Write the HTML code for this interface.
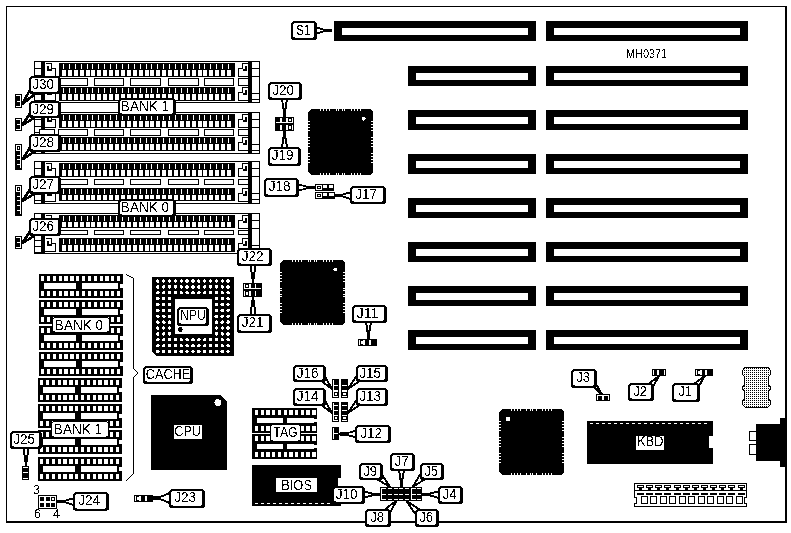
<!DOCTYPE html>
<html><head><meta charset="utf-8"><title>MH0371</title>
<style>html,body{margin:0;padding:0;background:#fff;}svg{display:block;will-change:transform;filter:url(#bw)}text{font-family:"Liberation Sans",sans-serif;fill:#000}</style>
</head><body>
<svg width="791" height="533" viewBox="0 0 791 533">
<defs><filter id="bw" x="0" y="0" width="100%" height="100%" color-interpolation-filters="sRGB"><feColorMatrix type="saturate" values="0"/><feComponentTransfer><feFuncR type="discrete" tableValues="0 1"/><feFuncG type="discrete" tableValues="0 1"/><feFuncB type="discrete" tableValues="0 1"/></feComponentTransfer></filter><pattern id="dots" width="2" height="2" patternUnits="userSpaceOnUse"><rect width="2" height="2" fill="#fff"/><rect width="1" height="1" fill="#000"/></pattern></defs>
<rect width="791" height="533" fill="#fff"/>
<g shape-rendering="crispEdges">
<rect x="6" y="6" width="1" height="517" fill="#000"/>
<rect x="6" y="6" width="781" height="1" fill="#000"/>
<rect x="785" y="6" width="2" height="517" fill="#000"/>
<rect x="6" y="521" width="781" height="2" fill="#000"/>
<rect x="334" y="21" width="202" height="20" fill="#000"/>
<rect x="342" y="28" width="186" height="7" fill="#fff"/>
<rect x="546" y="21" width="202" height="20" fill="#000"/>
<rect x="554" y="28" width="186" height="7" fill="#fff"/>
<rect x="408" y="66" width="128" height="20" fill="#000"/>
<rect x="416" y="73" width="112" height="7" fill="#fff"/>
<rect x="546" y="66" width="202" height="20" fill="#000"/>
<rect x="554" y="73" width="186" height="7" fill="#fff"/>
<rect x="408" y="110" width="128" height="20" fill="#000"/>
<rect x="416" y="117" width="112" height="7" fill="#fff"/>
<rect x="546" y="110" width="202" height="20" fill="#000"/>
<rect x="554" y="117" width="186" height="7" fill="#fff"/>
<rect x="408" y="154" width="128" height="20" fill="#000"/>
<rect x="416" y="161" width="112" height="7" fill="#fff"/>
<rect x="546" y="154" width="202" height="20" fill="#000"/>
<rect x="554" y="161" width="186" height="7" fill="#fff"/>
<rect x="408" y="198" width="128" height="20" fill="#000"/>
<rect x="416" y="205" width="112" height="7" fill="#fff"/>
<rect x="546" y="198" width="202" height="20" fill="#000"/>
<rect x="554" y="205" width="186" height="7" fill="#fff"/>
<rect x="408" y="242" width="128" height="20" fill="#000"/>
<rect x="416" y="249" width="112" height="7" fill="#fff"/>
<rect x="546" y="242" width="202" height="20" fill="#000"/>
<rect x="554" y="249" width="186" height="7" fill="#fff"/>
<rect x="408" y="286" width="128" height="20" fill="#000"/>
<rect x="416" y="293" width="112" height="7" fill="#fff"/>
<rect x="546" y="286" width="202" height="20" fill="#000"/>
<rect x="554" y="293" width="186" height="7" fill="#fff"/>
<rect x="408" y="330" width="128" height="20" fill="#000"/>
<rect x="416" y="337" width="112" height="7" fill="#fff"/>
<rect x="546" y="330" width="202" height="20" fill="#000"/>
<rect x="554" y="337" width="186" height="7" fill="#fff"/>
<rect x="34" y="61" width="226" height="42" fill="#000"/>
<rect x="35" y="62" width="224" height="40" fill="#fff"/>
<rect x="41" y="61" width="4" height="42" fill="#000"/>
<rect x="248" y="61" width="4" height="42" fill="#000"/>
<rect x="34" y="68" width="8" height="1" fill="#000"/>
<rect x="34" y="75" width="8" height="1" fill="#000"/>
<rect x="34" y="81" width="8" height="1" fill="#000"/>
<rect x="34" y="88" width="8" height="1" fill="#000"/>
<rect x="34" y="94" width="8" height="1" fill="#000"/>
<rect x="34" y="100" width="8" height="1" fill="#000"/>
<rect x="251" y="68" width="9" height="1" fill="#000"/>
<rect x="251" y="76" width="9" height="1" fill="#000"/>
<rect x="251" y="93" width="9" height="1" fill="#000"/>
<rect x="251" y="99" width="9" height="1" fill="#000"/>
<rect x="59" y="63" width="176" height="14" fill="#000"/>
<polyline points="45.5,63.5 51.5,63.5 51.5,68.5 55.5,68.5 55.5,76.5 45,76.5" fill="none" stroke="#000" stroke-width="1" />
<polyline points="47.5,65.5 47.5,69.5 51.5,69.5" fill="none" stroke="#000" stroke-width="2" />
<polyline points="248,63.5 242.5,63.5 242.5,68.5 238.5,68.5 238.5,76.5 248,76.5" fill="none" stroke="#000" stroke-width="1" />
<polyline points="246,65.5 246,69.5 242.5,69.5" fill="none" stroke="#000" stroke-width="2" />
<rect x="59" y="87" width="176" height="14" fill="#000"/>
<polyline points="45.5,87.5 51.5,87.5 51.5,92.5 55.5,92.5 55.5,100.5 45,100.5" fill="none" stroke="#000" stroke-width="1" />
<polyline points="47.5,89.5 47.5,93.5 51.5,93.5" fill="none" stroke="#000" stroke-width="2" />
<polyline points="248,87.5 242.5,87.5 242.5,92.5 238.5,92.5 238.5,100.5 248,100.5" fill="none" stroke="#000" stroke-width="1" />
<polyline points="246,89.5 246,93.5 242.5,93.5" fill="none" stroke="#000" stroke-width="2" />
<path d="M62 70h4v6h-4zM63 64h1v5h-1zM68 70h4v6h-4zM69 64h1v5h-1zM74 70h4v6h-4zM75 64h1v5h-1zM80 70h4v6h-4zM81 64h1v5h-1zM86 70h4v6h-4zM87 64h1v5h-1zM91 70h4v6h-4zM92 64h1v5h-1zM97 70h4v6h-4zM98 64h1v5h-1zM103 70h4v6h-4zM104 64h1v5h-1zM109 70h4v6h-4zM110 64h1v5h-1zM115 70h4v6h-4zM116 64h1v5h-1zM121 70h4v6h-4zM122 64h1v5h-1zM127 70h4v6h-4zM128 64h1v5h-1zM133 70h4v6h-4zM134 64h1v5h-1zM139 70h4v6h-4zM140 64h1v5h-1zM145 70h4v6h-4zM146 64h1v5h-1zM150 70h4v6h-4zM151 64h1v5h-1zM156 70h4v6h-4zM157 64h1v5h-1zM162 70h4v6h-4zM163 64h1v5h-1zM168 70h4v6h-4zM169 64h1v5h-1zM174 70h4v6h-4zM175 64h1v5h-1zM180 70h4v6h-4zM181 64h1v5h-1zM186 70h4v6h-4zM187 64h1v5h-1zM192 70h4v6h-4zM193 64h1v5h-1zM198 70h4v6h-4zM199 64h1v5h-1zM203 70h4v6h-4zM204 64h1v5h-1zM209 70h4v6h-4zM210 64h1v5h-1zM215 70h4v6h-4zM216 64h1v5h-1zM221 70h4v6h-4zM222 64h1v5h-1zM227 70h4v6h-4zM228 64h1v5h-1zM62 94h4v6h-4zM63 88h1v5h-1zM68 94h4v6h-4zM69 88h1v5h-1zM74 94h4v6h-4zM75 88h1v5h-1zM80 94h4v6h-4zM81 88h1v5h-1zM86 94h4v6h-4zM87 88h1v5h-1zM91 94h4v6h-4zM92 88h1v5h-1zM97 94h4v6h-4zM98 88h1v5h-1zM103 94h4v6h-4zM104 88h1v5h-1zM109 94h4v6h-4zM110 88h1v5h-1zM115 94h4v6h-4zM116 88h1v5h-1zM121 94h4v6h-4zM122 88h1v5h-1zM127 94h4v6h-4zM128 88h1v5h-1zM133 94h4v6h-4zM134 88h1v5h-1zM139 94h4v6h-4zM140 88h1v5h-1zM145 94h4v6h-4zM146 88h1v5h-1zM150 94h4v6h-4zM151 88h1v5h-1zM156 94h4v6h-4zM157 88h1v5h-1zM162 94h4v6h-4zM163 88h1v5h-1zM168 94h4v6h-4zM169 88h1v5h-1zM174 94h4v6h-4zM175 88h1v5h-1zM180 94h4v6h-4zM181 88h1v5h-1zM186 94h4v6h-4zM187 88h1v5h-1zM192 94h4v6h-4zM193 88h1v5h-1zM198 94h4v6h-4zM199 88h1v5h-1zM203 94h4v6h-4zM204 88h1v5h-1zM209 94h4v6h-4zM210 88h1v5h-1zM215 94h4v6h-4zM216 88h1v5h-1zM221 94h4v6h-4zM222 88h1v5h-1zM227 94h4v6h-4zM228 88h1v5h-1z" fill="#fff"/>
<rect x="58" y="78" width="30" height="8" fill="#000"/>
<rect x="59" y="79" width="28" height="6" fill="#fff"/>
<rect x="94" y="78" width="30" height="8" fill="#000"/>
<rect x="95" y="79" width="28" height="6" fill="#fff"/>
<rect x="130" y="78" width="31" height="8" fill="#000"/>
<rect x="131" y="79" width="29" height="6" fill="#fff"/>
<rect x="168" y="78" width="31" height="8" fill="#000"/>
<rect x="169" y="79" width="29" height="6" fill="#fff"/>
<rect x="204" y="78" width="30" height="8" fill="#000"/>
<rect x="205" y="79" width="28" height="6" fill="#fff"/>
<rect x="238" y="78" width="11" height="8" fill="#000"/>
<rect x="239" y="79" width="9" height="6" fill="#fff"/>
<rect x="39" y="78" width="16" height="8" fill="#000"/>
<rect x="40" y="79" width="14" height="6" fill="#fff"/>
<rect x="34" y="112" width="226" height="42" fill="#000"/>
<rect x="35" y="113" width="224" height="40" fill="#fff"/>
<rect x="41" y="112" width="4" height="42" fill="#000"/>
<rect x="248" y="112" width="4" height="42" fill="#000"/>
<rect x="34" y="119" width="8" height="1" fill="#000"/>
<rect x="34" y="126" width="8" height="1" fill="#000"/>
<rect x="34" y="132" width="8" height="1" fill="#000"/>
<rect x="34" y="139" width="8" height="1" fill="#000"/>
<rect x="34" y="145" width="8" height="1" fill="#000"/>
<rect x="34" y="151" width="8" height="1" fill="#000"/>
<rect x="251" y="119" width="9" height="1" fill="#000"/>
<rect x="251" y="127" width="9" height="1" fill="#000"/>
<rect x="251" y="144" width="9" height="1" fill="#000"/>
<rect x="251" y="150" width="9" height="1" fill="#000"/>
<rect x="59" y="114" width="176" height="14" fill="#000"/>
<polyline points="45.5,114.5 51.5,114.5 51.5,119.5 55.5,119.5 55.5,127.5 45,127.5" fill="none" stroke="#000" stroke-width="1" />
<polyline points="47.5,116.5 47.5,120.5 51.5,120.5" fill="none" stroke="#000" stroke-width="2" />
<polyline points="248,114.5 242.5,114.5 242.5,119.5 238.5,119.5 238.5,127.5 248,127.5" fill="none" stroke="#000" stroke-width="1" />
<polyline points="246,116.5 246,120.5 242.5,120.5" fill="none" stroke="#000" stroke-width="2" />
<rect x="59" y="137" width="176" height="14" fill="#000"/>
<polyline points="45.5,137.5 51.5,137.5 51.5,142.5 55.5,142.5 55.5,150.5 45,150.5" fill="none" stroke="#000" stroke-width="1" />
<polyline points="47.5,139.5 47.5,143.5 51.5,143.5" fill="none" stroke="#000" stroke-width="2" />
<polyline points="248,137.5 242.5,137.5 242.5,142.5 238.5,142.5 238.5,150.5 248,150.5" fill="none" stroke="#000" stroke-width="1" />
<polyline points="246,139.5 246,143.5 242.5,143.5" fill="none" stroke="#000" stroke-width="2" />
<path d="M62 121h4v6h-4zM63 115h1v5h-1zM68 121h4v6h-4zM69 115h1v5h-1zM74 121h4v6h-4zM75 115h1v5h-1zM80 121h4v6h-4zM81 115h1v5h-1zM86 121h4v6h-4zM87 115h1v5h-1zM91 121h4v6h-4zM92 115h1v5h-1zM97 121h4v6h-4zM98 115h1v5h-1zM103 121h4v6h-4zM104 115h1v5h-1zM109 121h4v6h-4zM110 115h1v5h-1zM115 121h4v6h-4zM116 115h1v5h-1zM121 121h4v6h-4zM122 115h1v5h-1zM127 121h4v6h-4zM128 115h1v5h-1zM133 121h4v6h-4zM134 115h1v5h-1zM139 121h4v6h-4zM140 115h1v5h-1zM145 121h4v6h-4zM146 115h1v5h-1zM150 121h4v6h-4zM151 115h1v5h-1zM156 121h4v6h-4zM157 115h1v5h-1zM162 121h4v6h-4zM163 115h1v5h-1zM168 121h4v6h-4zM169 115h1v5h-1zM174 121h4v6h-4zM175 115h1v5h-1zM180 121h4v6h-4zM181 115h1v5h-1zM186 121h4v6h-4zM187 115h1v5h-1zM192 121h4v6h-4zM193 115h1v5h-1zM198 121h4v6h-4zM199 115h1v5h-1zM203 121h4v6h-4zM204 115h1v5h-1zM209 121h4v6h-4zM210 115h1v5h-1zM215 121h4v6h-4zM216 115h1v5h-1zM221 121h4v6h-4zM222 115h1v5h-1zM227 121h4v6h-4zM228 115h1v5h-1zM62 144h4v6h-4zM63 138h1v5h-1zM68 144h4v6h-4zM69 138h1v5h-1zM74 144h4v6h-4zM75 138h1v5h-1zM80 144h4v6h-4zM81 138h1v5h-1zM86 144h4v6h-4zM87 138h1v5h-1zM91 144h4v6h-4zM92 138h1v5h-1zM97 144h4v6h-4zM98 138h1v5h-1zM103 144h4v6h-4zM104 138h1v5h-1zM109 144h4v6h-4zM110 138h1v5h-1zM115 144h4v6h-4zM116 138h1v5h-1zM121 144h4v6h-4zM122 138h1v5h-1zM127 144h4v6h-4zM128 138h1v5h-1zM133 144h4v6h-4zM134 138h1v5h-1zM139 144h4v6h-4zM140 138h1v5h-1zM145 144h4v6h-4zM146 138h1v5h-1zM150 144h4v6h-4zM151 138h1v5h-1zM156 144h4v6h-4zM157 138h1v5h-1zM162 144h4v6h-4zM163 138h1v5h-1zM168 144h4v6h-4zM169 138h1v5h-1zM174 144h4v6h-4zM175 138h1v5h-1zM180 144h4v6h-4zM181 138h1v5h-1zM186 144h4v6h-4zM187 138h1v5h-1zM192 144h4v6h-4zM193 138h1v5h-1zM198 144h4v6h-4zM199 138h1v5h-1zM203 144h4v6h-4zM204 138h1v5h-1zM209 144h4v6h-4zM210 138h1v5h-1zM215 144h4v6h-4zM216 138h1v5h-1zM221 144h4v6h-4zM222 138h1v5h-1zM227 144h4v6h-4zM228 138h1v5h-1z" fill="#fff"/>
<rect x="58" y="129" width="30" height="7" fill="#000"/>
<rect x="59" y="130" width="28" height="5" fill="#fff"/>
<rect x="94" y="129" width="30" height="7" fill="#000"/>
<rect x="95" y="130" width="28" height="5" fill="#fff"/>
<rect x="130" y="129" width="31" height="7" fill="#000"/>
<rect x="131" y="130" width="29" height="5" fill="#fff"/>
<rect x="168" y="129" width="31" height="7" fill="#000"/>
<rect x="169" y="130" width="29" height="5" fill="#fff"/>
<rect x="204" y="129" width="30" height="7" fill="#000"/>
<rect x="205" y="130" width="28" height="5" fill="#fff"/>
<rect x="238" y="129" width="11" height="7" fill="#000"/>
<rect x="239" y="130" width="9" height="5" fill="#fff"/>
<rect x="39" y="129" width="16" height="7" fill="#000"/>
<rect x="40" y="130" width="14" height="5" fill="#fff"/>
<rect x="34" y="161" width="226" height="43" fill="#000"/>
<rect x="35" y="162" width="224" height="41" fill="#fff"/>
<rect x="41" y="161" width="4" height="43" fill="#000"/>
<rect x="248" y="161" width="4" height="43" fill="#000"/>
<rect x="34" y="168" width="8" height="1" fill="#000"/>
<rect x="34" y="175" width="8" height="1" fill="#000"/>
<rect x="34" y="181" width="8" height="1" fill="#000"/>
<rect x="34" y="188" width="8" height="1" fill="#000"/>
<rect x="34" y="194" width="8" height="1" fill="#000"/>
<rect x="34" y="200" width="8" height="1" fill="#000"/>
<rect x="251" y="168" width="9" height="1" fill="#000"/>
<rect x="251" y="176" width="9" height="1" fill="#000"/>
<rect x="251" y="193" width="9" height="1" fill="#000"/>
<rect x="251" y="199" width="9" height="1" fill="#000"/>
<rect x="59" y="163" width="176" height="14" fill="#000"/>
<polyline points="45.5,163.5 51.5,163.5 51.5,168.5 55.5,168.5 55.5,176.5 45,176.5" fill="none" stroke="#000" stroke-width="1" />
<polyline points="47.5,165.5 47.5,169.5 51.5,169.5" fill="none" stroke="#000" stroke-width="2" />
<polyline points="248,163.5 242.5,163.5 242.5,168.5 238.5,168.5 238.5,176.5 248,176.5" fill="none" stroke="#000" stroke-width="1" />
<polyline points="246,165.5 246,169.5 242.5,169.5" fill="none" stroke="#000" stroke-width="2" />
<rect x="59" y="188" width="176" height="13" fill="#000"/>
<polyline points="45.5,188.5 51.5,188.5 51.5,193.5 55.5,193.5 55.5,201.5 45,201.5" fill="none" stroke="#000" stroke-width="1" />
<polyline points="47.5,190.5 47.5,194.5 51.5,194.5" fill="none" stroke="#000" stroke-width="2" />
<polyline points="248,188.5 242.5,188.5 242.5,193.5 238.5,193.5 238.5,201.5 248,201.5" fill="none" stroke="#000" stroke-width="1" />
<polyline points="246,190.5 246,194.5 242.5,194.5" fill="none" stroke="#000" stroke-width="2" />
<path d="M62 170h4v6h-4zM63 164h1v5h-1zM68 170h4v6h-4zM69 164h1v5h-1zM74 170h4v6h-4zM75 164h1v5h-1zM80 170h4v6h-4zM81 164h1v5h-1zM86 170h4v6h-4zM87 164h1v5h-1zM91 170h4v6h-4zM92 164h1v5h-1zM97 170h4v6h-4zM98 164h1v5h-1zM103 170h4v6h-4zM104 164h1v5h-1zM109 170h4v6h-4zM110 164h1v5h-1zM115 170h4v6h-4zM116 164h1v5h-1zM121 170h4v6h-4zM122 164h1v5h-1zM127 170h4v6h-4zM128 164h1v5h-1zM133 170h4v6h-4zM134 164h1v5h-1zM139 170h4v6h-4zM140 164h1v5h-1zM145 170h4v6h-4zM146 164h1v5h-1zM150 170h4v6h-4zM151 164h1v5h-1zM156 170h4v6h-4zM157 164h1v5h-1zM162 170h4v6h-4zM163 164h1v5h-1zM168 170h4v6h-4zM169 164h1v5h-1zM174 170h4v6h-4zM175 164h1v5h-1zM180 170h4v6h-4zM181 164h1v5h-1zM186 170h4v6h-4zM187 164h1v5h-1zM192 170h4v6h-4zM193 164h1v5h-1zM198 170h4v6h-4zM199 164h1v5h-1zM203 170h4v6h-4zM204 164h1v5h-1zM209 170h4v6h-4zM210 164h1v5h-1zM215 170h4v6h-4zM216 164h1v5h-1zM221 170h4v6h-4zM222 164h1v5h-1zM227 170h4v6h-4zM228 164h1v5h-1zM62 195h4v5h-4zM63 189h1v5h-1zM68 195h4v5h-4zM69 189h1v5h-1zM74 195h4v5h-4zM75 189h1v5h-1zM80 195h4v5h-4zM81 189h1v5h-1zM86 195h4v5h-4zM87 189h1v5h-1zM91 195h4v5h-4zM92 189h1v5h-1zM97 195h4v5h-4zM98 189h1v5h-1zM103 195h4v5h-4zM104 189h1v5h-1zM109 195h4v5h-4zM110 189h1v5h-1zM115 195h4v5h-4zM116 189h1v5h-1zM121 195h4v5h-4zM122 189h1v5h-1zM127 195h4v5h-4zM128 189h1v5h-1zM133 195h4v5h-4zM134 189h1v5h-1zM139 195h4v5h-4zM140 189h1v5h-1zM145 195h4v5h-4zM146 189h1v5h-1zM150 195h4v5h-4zM151 189h1v5h-1zM156 195h4v5h-4zM157 189h1v5h-1zM162 195h4v5h-4zM163 189h1v5h-1zM168 195h4v5h-4zM169 189h1v5h-1zM174 195h4v5h-4zM175 189h1v5h-1zM180 195h4v5h-4zM181 189h1v5h-1zM186 195h4v5h-4zM187 189h1v5h-1zM192 195h4v5h-4zM193 189h1v5h-1zM198 195h4v5h-4zM199 189h1v5h-1zM203 195h4v5h-4zM204 189h1v5h-1zM209 195h4v5h-4zM210 189h1v5h-1zM215 195h4v5h-4zM216 189h1v5h-1zM221 195h4v5h-4zM222 189h1v5h-1zM227 195h4v5h-4zM228 189h1v5h-1z" fill="#fff"/>
<rect x="58" y="179" width="30" height="6" fill="#000"/>
<rect x="59" y="180" width="28" height="4" fill="#fff"/>
<rect x="94" y="179" width="30" height="6" fill="#000"/>
<rect x="95" y="180" width="28" height="4" fill="#fff"/>
<rect x="130" y="179" width="31" height="6" fill="#000"/>
<rect x="131" y="180" width="29" height="4" fill="#fff"/>
<rect x="168" y="179" width="31" height="6" fill="#000"/>
<rect x="169" y="180" width="29" height="4" fill="#fff"/>
<rect x="204" y="179" width="30" height="6" fill="#000"/>
<rect x="205" y="180" width="28" height="4" fill="#fff"/>
<rect x="238" y="179" width="11" height="6" fill="#000"/>
<rect x="239" y="180" width="9" height="4" fill="#fff"/>
<rect x="39" y="179" width="16" height="6" fill="#000"/>
<rect x="40" y="180" width="14" height="4" fill="#fff"/>
<rect x="34" y="213" width="226" height="41" fill="#000"/>
<rect x="35" y="214" width="224" height="39" fill="#fff"/>
<rect x="41" y="213" width="4" height="41" fill="#000"/>
<rect x="248" y="213" width="4" height="41" fill="#000"/>
<rect x="34" y="220" width="8" height="1" fill="#000"/>
<rect x="34" y="227" width="8" height="1" fill="#000"/>
<rect x="34" y="233" width="8" height="1" fill="#000"/>
<rect x="34" y="240" width="8" height="1" fill="#000"/>
<rect x="34" y="246" width="8" height="1" fill="#000"/>
<rect x="34" y="252" width="8" height="1" fill="#000"/>
<rect x="251" y="220" width="9" height="1" fill="#000"/>
<rect x="251" y="228" width="9" height="1" fill="#000"/>
<rect x="251" y="245" width="9" height="1" fill="#000"/>
<rect x="251" y="251" width="9" height="1" fill="#000"/>
<rect x="59" y="215" width="176" height="13" fill="#000"/>
<polyline points="45.5,215.5 51.5,215.5 51.5,220.5 55.5,220.5 55.5,228.5 45,228.5" fill="none" stroke="#000" stroke-width="1" />
<polyline points="47.5,217.5 47.5,221.5 51.5,221.5" fill="none" stroke="#000" stroke-width="2" />
<polyline points="248,215.5 242.5,215.5 242.5,220.5 238.5,220.5 238.5,228.5 248,228.5" fill="none" stroke="#000" stroke-width="1" />
<polyline points="246,217.5 246,221.5 242.5,221.5" fill="none" stroke="#000" stroke-width="2" />
<rect x="59" y="238" width="176" height="14" fill="#000"/>
<polyline points="45.5,238.5 51.5,238.5 51.5,243.5 55.5,243.5 55.5,251.5 45,251.5" fill="none" stroke="#000" stroke-width="1" />
<polyline points="47.5,240.5 47.5,244.5 51.5,244.5" fill="none" stroke="#000" stroke-width="2" />
<polyline points="248,238.5 242.5,238.5 242.5,243.5 238.5,243.5 238.5,251.5 248,251.5" fill="none" stroke="#000" stroke-width="1" />
<polyline points="246,240.5 246,244.5 242.5,244.5" fill="none" stroke="#000" stroke-width="2" />
<path d="M62 222h4v5h-4zM63 216h1v5h-1zM68 222h4v5h-4zM69 216h1v5h-1zM74 222h4v5h-4zM75 216h1v5h-1zM80 222h4v5h-4zM81 216h1v5h-1zM86 222h4v5h-4zM87 216h1v5h-1zM91 222h4v5h-4zM92 216h1v5h-1zM97 222h4v5h-4zM98 216h1v5h-1zM103 222h4v5h-4zM104 216h1v5h-1zM109 222h4v5h-4zM110 216h1v5h-1zM115 222h4v5h-4zM116 216h1v5h-1zM121 222h4v5h-4zM122 216h1v5h-1zM127 222h4v5h-4zM128 216h1v5h-1zM133 222h4v5h-4zM134 216h1v5h-1zM139 222h4v5h-4zM140 216h1v5h-1zM145 222h4v5h-4zM146 216h1v5h-1zM150 222h4v5h-4zM151 216h1v5h-1zM156 222h4v5h-4zM157 216h1v5h-1zM162 222h4v5h-4zM163 216h1v5h-1zM168 222h4v5h-4zM169 216h1v5h-1zM174 222h4v5h-4zM175 216h1v5h-1zM180 222h4v5h-4zM181 216h1v5h-1zM186 222h4v5h-4zM187 216h1v5h-1zM192 222h4v5h-4zM193 216h1v5h-1zM198 222h4v5h-4zM199 216h1v5h-1zM203 222h4v5h-4zM204 216h1v5h-1zM209 222h4v5h-4zM210 216h1v5h-1zM215 222h4v5h-4zM216 216h1v5h-1zM221 222h4v5h-4zM222 216h1v5h-1zM227 222h4v5h-4zM228 216h1v5h-1zM62 245h4v6h-4zM63 239h1v5h-1zM68 245h4v6h-4zM69 239h1v5h-1zM74 245h4v6h-4zM75 239h1v5h-1zM80 245h4v6h-4zM81 239h1v5h-1zM86 245h4v6h-4zM87 239h1v5h-1zM91 245h4v6h-4zM92 239h1v5h-1zM97 245h4v6h-4zM98 239h1v5h-1zM103 245h4v6h-4zM104 239h1v5h-1zM109 245h4v6h-4zM110 239h1v5h-1zM115 245h4v6h-4zM116 239h1v5h-1zM121 245h4v6h-4zM122 239h1v5h-1zM127 245h4v6h-4zM128 239h1v5h-1zM133 245h4v6h-4zM134 239h1v5h-1zM139 245h4v6h-4zM140 239h1v5h-1zM145 245h4v6h-4zM146 239h1v5h-1zM150 245h4v6h-4zM151 239h1v5h-1zM156 245h4v6h-4zM157 239h1v5h-1zM162 245h4v6h-4zM163 239h1v5h-1zM168 245h4v6h-4zM169 239h1v5h-1zM174 245h4v6h-4zM175 239h1v5h-1zM180 245h4v6h-4zM181 239h1v5h-1zM186 245h4v6h-4zM187 239h1v5h-1zM192 245h4v6h-4zM193 239h1v5h-1zM198 245h4v6h-4zM199 239h1v5h-1zM203 245h4v6h-4zM204 239h1v5h-1zM209 245h4v6h-4zM210 239h1v5h-1zM215 245h4v6h-4zM216 239h1v5h-1zM221 245h4v6h-4zM222 239h1v5h-1zM227 245h4v6h-4zM228 239h1v5h-1z" fill="#fff"/>
<rect x="58" y="230" width="30" height="5" fill="#000"/>
<rect x="59" y="231" width="28" height="3" fill="#fff"/>
<rect x="94" y="230" width="30" height="5" fill="#000"/>
<rect x="95" y="231" width="28" height="3" fill="#fff"/>
<rect x="130" y="230" width="31" height="5" fill="#000"/>
<rect x="131" y="231" width="29" height="3" fill="#fff"/>
<rect x="168" y="230" width="31" height="5" fill="#000"/>
<rect x="169" y="231" width="29" height="3" fill="#fff"/>
<rect x="204" y="230" width="30" height="5" fill="#000"/>
<rect x="205" y="231" width="28" height="3" fill="#fff"/>
<rect x="238" y="230" width="11" height="5" fill="#000"/>
<rect x="239" y="231" width="9" height="3" fill="#fff"/>
<rect x="39" y="230" width="16" height="5" fill="#000"/>
<rect x="40" y="231" width="14" height="3" fill="#fff"/>
<rect x="39" y="274" width="84" height="24" fill="#000"/>
<path d="M41 276h3v5h-3zM41 291h3v5h-3zM47 276h3v5h-3zM47 291h3v5h-3zM53 276h3v5h-3zM53 291h3v5h-3zM59 276h3v5h-3zM59 291h3v5h-3zM64 276h4v5h-4zM64 291h4v5h-4zM70 276h4v5h-4zM70 291h4v5h-4zM76 276h3v5h-3zM76 291h3v5h-3zM82 276h3v5h-3zM82 291h3v5h-3zM88 276h3v5h-3zM88 291h3v5h-3zM94 276h3v5h-3zM94 291h3v5h-3zM100 276h3v5h-3zM100 291h3v5h-3zM105 276h4v5h-4zM105 291h4v5h-4zM111 276h3v5h-3zM111 291h3v5h-3zM117 276h3v5h-3zM117 291h3v5h-3zM44 283h32v6h-32zM82 283h36v6h-36zM120 284h3v4h-3z" fill="#fff"/>
<rect x="39" y="300" width="84" height="24" fill="#000"/>
<path d="M41 302h3v5h-3zM41 317h3v5h-3zM47 302h3v5h-3zM47 317h3v5h-3zM53 302h3v5h-3zM53 317h3v5h-3zM59 302h3v5h-3zM59 317h3v5h-3zM64 302h4v5h-4zM64 317h4v5h-4zM70 302h4v5h-4zM70 317h4v5h-4zM76 302h3v5h-3zM76 317h3v5h-3zM82 302h3v5h-3zM82 317h3v5h-3zM88 302h3v5h-3zM88 317h3v5h-3zM94 302h3v5h-3zM94 317h3v5h-3zM100 302h3v5h-3zM100 317h3v5h-3zM105 302h4v5h-4zM105 317h4v5h-4zM111 302h3v5h-3zM111 317h3v5h-3zM117 302h3v5h-3zM117 317h3v5h-3zM44 309h32v6h-32zM82 309h36v6h-36zM120 310h3v4h-3z" fill="#fff"/>
<rect x="39" y="326" width="84" height="24" fill="#000"/>
<path d="M41 328h3v5h-3zM41 343h3v5h-3zM47 328h3v5h-3zM47 343h3v5h-3zM53 328h3v5h-3zM53 343h3v5h-3zM59 328h3v5h-3zM59 343h3v5h-3zM64 328h4v5h-4zM64 343h4v5h-4zM70 328h4v5h-4zM70 343h4v5h-4zM76 328h3v5h-3zM76 343h3v5h-3zM82 328h3v5h-3zM82 343h3v5h-3zM88 328h3v5h-3zM88 343h3v5h-3zM94 328h3v5h-3zM94 343h3v5h-3zM100 328h3v5h-3zM100 343h3v5h-3zM105 328h4v5h-4zM105 343h4v5h-4zM111 328h3v5h-3zM111 343h3v5h-3zM117 328h3v5h-3zM117 343h3v5h-3zM44 335h32v6h-32zM82 335h36v6h-36zM120 336h3v4h-3z" fill="#fff"/>
<rect x="39" y="352" width="84" height="24" fill="#000"/>
<path d="M41 354h3v5h-3zM41 369h3v5h-3zM47 354h3v5h-3zM47 369h3v5h-3zM53 354h3v5h-3zM53 369h3v5h-3zM59 354h3v5h-3zM59 369h3v5h-3zM64 354h4v5h-4zM64 369h4v5h-4zM70 354h4v5h-4zM70 369h4v5h-4zM76 354h3v5h-3zM76 369h3v5h-3zM82 354h3v5h-3zM82 369h3v5h-3zM88 354h3v5h-3zM88 369h3v5h-3zM94 354h3v5h-3zM94 369h3v5h-3zM100 354h3v5h-3zM100 369h3v5h-3zM105 354h4v5h-4zM105 369h4v5h-4zM111 354h3v5h-3zM111 369h3v5h-3zM117 354h3v5h-3zM117 369h3v5h-3zM44 361h32v6h-32zM82 361h36v6h-36zM120 362h3v4h-3z" fill="#fff"/>
<rect x="38" y="378" width="84" height="24" fill="#000"/>
<path d="M40 380h3v5h-3zM40 395h3v5h-3zM46 380h3v5h-3zM46 395h3v5h-3zM52 380h3v5h-3zM52 395h3v5h-3zM58 380h3v5h-3zM58 395h3v5h-3zM63 380h4v5h-4zM63 395h4v5h-4zM69 380h4v5h-4zM69 395h4v5h-4zM75 380h3v5h-3zM75 395h3v5h-3zM81 380h3v5h-3zM81 395h3v5h-3zM87 380h3v5h-3zM87 395h3v5h-3zM93 380h3v5h-3zM93 395h3v5h-3zM98 380h4v5h-4zM98 395h4v5h-4zM104 380h4v5h-4zM104 395h4v5h-4zM110 380h3v5h-3zM110 395h3v5h-3zM116 380h3v5h-3zM116 395h3v5h-3zM43 387h32v6h-32zM81 387h36v6h-36zM119 388h3v4h-3z" fill="#fff"/>
<rect x="38" y="404" width="84" height="24" fill="#000"/>
<path d="M40 406h3v5h-3zM40 421h3v5h-3zM46 406h3v5h-3zM46 421h3v5h-3zM52 406h3v5h-3zM52 421h3v5h-3zM58 406h3v5h-3zM58 421h3v5h-3zM63 406h4v5h-4zM63 421h4v5h-4zM69 406h4v5h-4zM69 421h4v5h-4zM75 406h3v5h-3zM75 421h3v5h-3zM81 406h3v5h-3zM81 421h3v5h-3zM87 406h3v5h-3zM87 421h3v5h-3zM93 406h3v5h-3zM93 421h3v5h-3zM98 406h4v5h-4zM98 421h4v5h-4zM104 406h4v5h-4zM104 421h4v5h-4zM110 406h3v5h-3zM110 421h3v5h-3zM116 406h3v5h-3zM116 421h3v5h-3zM43 413h32v6h-32zM81 413h36v6h-36zM119 414h3v4h-3z" fill="#fff"/>
<rect x="38" y="430" width="84" height="24" fill="#000"/>
<path d="M40 432h3v5h-3zM40 447h3v5h-3zM46 432h3v5h-3zM46 447h3v5h-3zM52 432h3v5h-3zM52 447h3v5h-3zM58 432h3v5h-3zM58 447h3v5h-3zM63 432h4v5h-4zM63 447h4v5h-4zM69 432h4v5h-4zM69 447h4v5h-4zM75 432h3v5h-3zM75 447h3v5h-3zM81 432h3v5h-3zM81 447h3v5h-3zM87 432h3v5h-3zM87 447h3v5h-3zM93 432h3v5h-3zM93 447h3v5h-3zM98 432h4v5h-4zM98 447h4v5h-4zM104 432h4v5h-4zM104 447h4v5h-4zM110 432h3v5h-3zM110 447h3v5h-3zM116 432h3v5h-3zM116 447h3v5h-3zM43 439h32v6h-32zM81 439h36v6h-36zM119 440h3v4h-3z" fill="#fff"/>
<rect x="38" y="457" width="84" height="24" fill="#000"/>
<path d="M40 459h3v5h-3zM40 474h3v5h-3zM46 459h3v5h-3zM46 474h3v5h-3zM52 459h3v5h-3zM52 474h3v5h-3zM58 459h3v5h-3zM58 474h3v5h-3zM63 459h4v5h-4zM63 474h4v5h-4zM69 459h4v5h-4zM69 474h4v5h-4zM75 459h3v5h-3zM75 474h3v5h-3zM81 459h3v5h-3zM81 474h3v5h-3zM87 459h3v5h-3zM87 474h3v5h-3zM93 459h3v5h-3zM93 474h3v5h-3zM98 459h4v5h-4zM98 474h4v5h-4zM104 459h4v5h-4zM104 474h4v5h-4zM110 459h3v5h-3zM110 474h3v5h-3zM116 459h3v5h-3zM116 474h3v5h-3zM43 466h32v6h-32zM81 466h36v6h-36zM119 467h3v4h-3z" fill="#fff"/>
<rect x="252" y="408" width="65" height="25" fill="#000"/>
<path d="M255 410h3v5h-3zM255 426h3v5h-3zM261 410h3v5h-3zM261 426h3v5h-3zM266 410h4v5h-4zM266 426h4v5h-4zM272 410h3v5h-3zM272 426h3v5h-3zM278 410h3v5h-3zM278 426h3v5h-3zM284 410h3v5h-3zM284 426h3v5h-3zM289 410h4v5h-4zM289 426h4v5h-4zM295 410h3v5h-3zM295 426h3v5h-3zM301 410h3v5h-3zM301 426h3v5h-3zM306 410h4v5h-4zM306 426h4v5h-4zM312 410h4v5h-4zM312 426h4v5h-4zM257 418h26v5h-26zM287 418h27v5h-27zM314 419h3v3h-3z" fill="#fff"/>
<rect x="252" y="434" width="65" height="25" fill="#000"/>
<path d="M255 436h3v5h-3zM255 452h3v5h-3zM261 436h3v5h-3zM261 452h3v5h-3zM266 436h4v5h-4zM266 452h4v5h-4zM272 436h3v5h-3zM272 452h3v5h-3zM278 436h3v5h-3zM278 452h3v5h-3zM284 436h3v5h-3zM284 452h3v5h-3zM289 436h4v5h-4zM289 452h4v5h-4zM295 436h3v5h-3zM295 452h3v5h-3zM301 436h3v5h-3zM301 452h3v5h-3zM306 436h4v5h-4zM306 452h4v5h-4zM312 436h4v5h-4zM312 452h4v5h-4zM257 444h26v5h-26zM287 444h27v5h-27zM314 445h3v3h-3z" fill="#fff"/>
<polygon points="152,277 234,277 234,356 156,356 152,352" fill="#000" stroke="none" stroke-width="1" />
<path d="M175 299h37v35h-37z" fill="#fff"/>
<polygon points="151,395 220,395 227,402 227,470 151,470" fill="#000" stroke="none" stroke-width="1" />
<rect x="174" y="425" width="28" height="14" fill="#fff"/>
<rect x="252" y="465" width="89" height="41" fill="#000"/>
<rect x="338" y="478" width="3" height="8" fill="#fff"/>
<rect x="255" y="503" width="3" height="1" fill="#fff"/>
<rect x="261" y="503" width="3" height="1" fill="#fff"/>
<rect x="267" y="503" width="3" height="1" fill="#fff"/>
<rect x="273" y="503" width="3" height="1" fill="#fff"/>
<rect x="279" y="503" width="3" height="1" fill="#fff"/>
<rect x="285" y="503" width="3" height="1" fill="#fff"/>
<rect x="291" y="503" width="3" height="1" fill="#fff"/>
<rect x="297" y="503" width="3" height="1" fill="#fff"/>
<rect x="303" y="503" width="3" height="1" fill="#fff"/>
<rect x="309" y="503" width="3" height="1" fill="#fff"/>
<rect x="315" y="503" width="3" height="1" fill="#fff"/>
<rect x="321" y="503" width="3" height="1" fill="#fff"/>
<rect x="327" y="503" width="3" height="1" fill="#fff"/>
<rect x="333" y="503" width="3" height="1" fill="#fff"/>
<rect x="276" y="478" width="41" height="14" fill="#fff"/>
<rect x="587" y="421" width="126" height="43" fill="#000"/>
<rect x="709" y="436" width="4" height="12" fill="#fff"/>
<rect x="590" y="423" width="3" height="1" fill="#fff"/>
<rect x="596" y="423" width="3" height="1" fill="#fff"/>
<rect x="602" y="423" width="3" height="1" fill="#fff"/>
<rect x="608" y="423" width="3" height="1" fill="#fff"/>
<rect x="614" y="423" width="3" height="1" fill="#fff"/>
<rect x="620" y="423" width="3" height="1" fill="#fff"/>
<rect x="626" y="423" width="3" height="1" fill="#fff"/>
<rect x="632" y="423" width="3" height="1" fill="#fff"/>
<rect x="638" y="423" width="3" height="1" fill="#fff"/>
<rect x="644" y="423" width="3" height="1" fill="#fff"/>
<rect x="650" y="423" width="3" height="1" fill="#fff"/>
<rect x="656" y="423" width="3" height="1" fill="#fff"/>
<rect x="662" y="423" width="3" height="1" fill="#fff"/>
<rect x="668" y="423" width="3" height="1" fill="#fff"/>
<rect x="674" y="423" width="3" height="1" fill="#fff"/>
<rect x="680" y="423" width="3" height="1" fill="#fff"/>
<rect x="686" y="423" width="3" height="1" fill="#fff"/>
<rect x="692" y="423" width="3" height="1" fill="#fff"/>
<rect x="698" y="423" width="3" height="1" fill="#fff"/>
<rect x="704" y="423" width="3" height="1" fill="#fff"/>
<rect x="636" y="436" width="28" height="14" fill="#fff"/>
<polygon points="311,109 370,109 373,112 373,172 370,175 311,175 308,172 308,112" fill="#000" stroke="none" stroke-width="1" />
<path d="M320 109h1v2h-1zM320 173h1v2h-1zM308 121h2v1h-2zM371 121h2v1h-2zM323 109h1v2h-1zM323 173h1v2h-1zM308 124h2v1h-2zM371 124h2v1h-2zM326 109h1v2h-1zM326 173h1v2h-1zM308 127h2v1h-2zM371 127h2v1h-2zM329 109h1v2h-1zM329 173h1v2h-1zM308 130h2v1h-2zM371 130h2v1h-2zM336 109h1v2h-1zM336 173h1v2h-1zM308 137h2v1h-2zM371 137h2v1h-2zM338 109h1v2h-1zM338 173h1v2h-1zM308 140h2v1h-2zM371 140h2v1h-2zM342 109h1v2h-1zM342 173h1v2h-1zM308 143h2v1h-2zM371 143h2v1h-2zM344 109h1v2h-1zM344 173h1v2h-1zM308 146h2v1h-2zM371 146h2v1h-2zM351 109h1v2h-1zM351 173h1v2h-1zM308 153h2v1h-2zM371 153h2v1h-2zM354 109h1v2h-1zM354 173h1v2h-1zM308 156h2v1h-2zM371 156h2v1h-2zM357 109h1v2h-1zM357 173h1v2h-1zM308 159h2v1h-2zM371 159h2v1h-2zM360 109h1v2h-1zM360 173h1v2h-1zM308 162h2v1h-2zM371 162h2v1h-2z" fill="#fff"/>
<polygon points="283,260 342,260 345,263 345,322 342,325 283,325 280,322 280,263" fill="#000" stroke="none" stroke-width="1" />
<path d="M292 260h1v2h-1zM292 323h1v2h-1zM280 272h2v1h-2zM343 272h2v1h-2zM295 260h1v2h-1zM295 323h1v2h-1zM280 275h2v1h-2zM343 275h2v1h-2zM298 260h1v2h-1zM298 323h1v2h-1zM280 278h2v1h-2zM343 278h2v1h-2zM301 260h1v2h-1zM301 323h1v2h-1zM280 281h2v1h-2zM343 281h2v1h-2zM308 260h1v2h-1zM308 323h1v2h-1zM280 288h2v1h-2zM343 288h2v1h-2zM310 260h1v2h-1zM310 323h1v2h-1zM280 290h2v1h-2zM343 290h2v1h-2zM314 260h1v2h-1zM314 323h1v2h-1zM280 294h2v1h-2zM343 294h2v1h-2zM316 260h1v2h-1zM316 323h1v2h-1zM280 296h2v1h-2zM343 296h2v1h-2zM323 260h1v2h-1zM323 323h1v2h-1zM280 303h2v1h-2zM343 303h2v1h-2zM326 260h1v2h-1zM326 323h1v2h-1zM280 306h2v1h-2zM343 306h2v1h-2zM329 260h1v2h-1zM329 323h1v2h-1zM280 309h2v1h-2zM343 309h2v1h-2zM332 260h1v2h-1zM332 323h1v2h-1zM280 312h2v1h-2zM343 312h2v1h-2z" fill="#fff"/>
<polygon points="502,409 561,409 564,412 564,472 561,475 502,475 499,472 499,412" fill="#000" stroke="none" stroke-width="1" />
<path d="M511 409h1v2h-1zM511 473h1v2h-1zM499 421h2v1h-2zM562 421h2v1h-2zM514 409h1v2h-1zM514 473h1v2h-1zM499 424h2v1h-2zM562 424h2v1h-2zM517 409h1v2h-1zM517 473h1v2h-1zM499 427h2v1h-2zM562 427h2v1h-2zM520 409h1v2h-1zM520 473h1v2h-1zM499 430h2v1h-2zM562 430h2v1h-2zM526 409h1v2h-1zM526 473h1v2h-1zM499 437h2v1h-2zM562 437h2v1h-2zM530 409h1v2h-1zM530 473h1v2h-1zM499 440h2v1h-2zM562 440h2v1h-2zM532 409h1v2h-1zM532 473h1v2h-1zM499 443h2v1h-2zM562 443h2v1h-2zM536 409h1v2h-1zM536 473h1v2h-1zM499 446h2v1h-2zM562 446h2v1h-2zM542 409h1v2h-1zM542 473h1v2h-1zM499 453h2v1h-2zM562 453h2v1h-2zM545 409h1v2h-1zM545 473h1v2h-1zM499 456h2v1h-2zM562 456h2v1h-2zM548 409h1v2h-1zM548 473h1v2h-1zM499 459h2v1h-2zM562 459h2v1h-2zM551 409h1v2h-1zM551 473h1v2h-1zM499 462h2v1h-2zM562 462h2v1h-2z" fill="#fff"/>
<rect x="506" y="417" width="4" height="4" fill="#fff"/>
<rect x="15" y="94" width="7" height="14" fill="#000"/>
<path d="M16 95h5v1h-5zM20 95h1v11h-1zM17 101h4v1h-4zM16 106h5v1h-5z" fill="#fff"/>
<rect x="15" y="118" width="7" height="13" fill="#000"/>
<path d="M16 119h5v1h-5zM20 119h1v10h-1zM17 124h4v1h-4zM16 129h5v1h-5z" fill="#fff"/>
<rect x="15" y="144" width="7" height="26" fill="#000"/>
<path d="M16 145h5v1h-5zM20 145h1v23h-1zM17 150h4v1h-4zM17 155h4v1h-4zM17 159h4v1h-4zM17 164h4v1h-4zM16 145h5v6h-5z" fill="#fff"/>
<rect x="17" y="146" width="3" height="4" fill="#000"/>
<rect x="18" y="147" width="1" height="2" fill="#fff"/>
<rect x="15" y="185" width="7" height="31" fill="#000"/>
<path d="M16 186h5v1h-5zM20 186h1v28h-1zM17 191h4v1h-4zM17 196h4v1h-4zM17 200h4v1h-4zM17 205h4v1h-4zM17 210h4v1h-4zM16 186h5v6h-5z" fill="#fff"/>
<rect x="17" y="187" width="3" height="4" fill="#000"/>
<rect x="18" y="188" width="1" height="2" fill="#fff"/>
<rect x="15" y="236" width="7" height="13" fill="#000"/>
<path d="M16 237h5v1h-5zM20 237h1v10h-1zM17 242h4v1h-4zM16 247h5v1h-5z" fill="#fff"/>
<rect x="275" y="117" width="19" height="14" fill="#000"/>
<path d="M276 122h17v1h-17zM280 118h2v4h-2zM286 118h2v4h-2zM292 118h1v4h-1zM280 125h2v5h-2zM286 125h2v5h-2zM292 125h1v5h-1zM289 119h2v2h-2zM289 126h2v3h-2z" fill="#fff"/>
<rect x="315" y="184" width="19" height="7" fill="#000"/>
<rect x="316" y="185" width="17" height="5" fill="#fff"/>
<rect x="317" y="186" width="4" height="3" fill="#000"/>
<rect x="318" y="187" width="2" height="1" fill="#fff"/>
<rect x="322" y="188" width="12" height="3" fill="#000"/>
<rect x="322" y="184" width="1" height="7" fill="#000"/>
<rect x="327" y="184" width="2" height="7" fill="#000"/>
<rect x="315" y="192" width="20" height="7" fill="#000"/>
<rect x="316" y="193" width="18" height="5" fill="#fff"/>
<rect x="317" y="194" width="4" height="3" fill="#000"/>
<rect x="318" y="195" width="2" height="1" fill="#fff"/>
<rect x="322" y="196" width="13" height="3" fill="#000"/>
<rect x="322" y="192" width="1" height="7" fill="#000"/>
<rect x="327" y="192" width="2" height="7" fill="#000"/>
<rect x="243" y="283" width="19" height="14" fill="#000"/>
<path d="M244 288h17v1h-17zM244 284h1v4h-1zM249 284h2v4h-2zM255 284h1v4h-1zM244 291h1v5h-1zM249 291h2v5h-2zM255 291h1v5h-1zM246 285h2v2h-2zM246 292h2v3h-2z" fill="#fff"/>
<rect x="358" y="339" width="19" height="7" fill="#000"/>
<rect x="359" y="340" width="1" height="5" fill="#fff"/>
<rect x="363" y="340" width="2" height="5" fill="#fff"/>
<rect x="369" y="340" width="2" height="5" fill="#fff"/>
<rect x="361" y="341" width="2" height="3" fill="#fff"/>
<rect x="332" y="379" width="7" height="19" fill="#000"/>
<rect x="341" y="379" width="7" height="19" fill="#000"/>
<rect x="332" y="402" width="7" height="20" fill="#000"/>
<rect x="341" y="402" width="7" height="20" fill="#000"/>
<path d="M333 380h1v17h-1zM333 385h5v1h-5zM342 385h5v1h-5zM333 390h5v2h-5zM342 390h5v2h-5zM333 396h5v1h-5zM342 396h5v1h-5zM335 393h2v2h-2zM343 393h3v2h-3zM333 403h1v18h-1zM333 405h5v1h-5zM342 405h5v1h-5zM333 410h5v1h-5zM342 410h5v1h-5zM333 415h5v1h-5zM342 415h5v1h-5zM333 420h5v1h-5zM342 420h5v1h-5zM335 417h2v2h-2zM343 417h3v2h-3z" fill="#fff"/>
<rect x="332" y="427" width="7" height="13" fill="#000"/>
<rect x="333" y="428" width="1" height="11" fill="#fff"/>
<rect x="333" y="433" width="5" height="1" fill="#fff"/>
<rect x="134" y="495" width="19" height="7" fill="#000"/>
<rect x="135" y="496" width="1" height="5" fill="#fff"/>
<rect x="139" y="496" width="2" height="5" fill="#fff"/>
<rect x="145" y="496" width="2" height="5" fill="#fff"/>
<rect x="137" y="497" width="2" height="3" fill="#fff"/>
<rect x="22" y="466" width="7" height="14" fill="#000"/>
<rect x="23" y="467" width="5" height="1" fill="#fff"/>
<rect x="23" y="472" width="5" height="1" fill="#fff"/>
<rect x="23" y="478" width="5" height="1" fill="#fff"/>
<rect x="38" y="495" width="19" height="14" fill="#000"/>
<rect x="39" y="496" width="17" height="12" fill="#fff"/>
<rect x="40" y="497" width="4" height="4" fill="#000"/>
<rect x="46" y="497" width="4" height="4" fill="#000"/>
<rect x="51" y="497" width="4" height="4" fill="#000"/>
<rect x="40" y="503" width="4" height="4" fill="#000"/>
<rect x="46" y="503" width="4" height="4" fill="#000"/>
<rect x="51" y="503" width="4" height="4" fill="#000"/>
<rect x="52" y="498" width="2" height="2" fill="#fff"/>
<rect x="596" y="394" width="14" height="7" fill="#000"/>
<rect x="597" y="395" width="12" height="1" fill="#fff"/>
<rect x="597" y="395" width="1" height="5" fill="#fff"/>
<rect x="608" y="395" width="1" height="5" fill="#fff"/>
<rect x="602" y="396" width="2" height="4" fill="#fff"/>
<rect x="652" y="369" width="14" height="7" fill="#000"/>
<rect x="653" y="370" width="1" height="5" fill="#fff"/>
<rect x="657" y="370" width="2" height="5" fill="#fff"/>
<rect x="664" y="370" width="1" height="5" fill="#fff"/>
<rect x="695" y="369" width="18" height="7" fill="#000"/>
<rect x="696" y="370" width="1" height="5" fill="#fff"/>
<rect x="700" y="370" width="2" height="5" fill="#fff"/>
<rect x="705" y="370" width="2" height="5" fill="#fff"/>
<rect x="698" y="371" width="2" height="3" fill="#fff"/>
<rect x="380" y="487" width="42" height="14" fill="#000"/>
<path d="M381 488h1v12h-1zM411 488h1v12h-1zM382 488h4v1h-4zM388 488h4v1h-4zM394 488h4v1h-4zM399 488h4v1h-4zM405 488h4v1h-4zM412 488h4v1h-4zM417 488h4v1h-4zM382 494h4v1h-4zM388 494h4v1h-4zM394 494h4v1h-4zM399 494h4v1h-4zM405 494h4v1h-4zM412 494h4v1h-4zM417 494h4v1h-4zM382 499h4v1h-4zM388 499h4v1h-4zM394 499h4v1h-4zM399 499h4v1h-4zM405 499h4v1h-4zM412 499h4v1h-4zM417 499h4v1h-4z" fill="#fff"/>
<path d="M744.5 367.5H768.5L770.5 370.5V374.5L768.5 376.5V385.5L770.5 386.5V389.5L768.5 390.5V399.5L770.5 400.5V404.5L767.5 407.5H745.5L742.5 404.5V400.5L744.5 399.5V390.5L742.5 389.5V386.5L744.5 385.5V376.5L742.5 374.5V370.5Z" fill="url(#dots)" stroke="#000" stroke-width="1"/>
<rect x="756" y="424" width="30" height="37" fill="#000"/>
<rect x="780" y="418" width="6" height="49" fill="#000"/>
<rect x="749" y="431" width="8" height="10" fill="#000"/>
<rect x="750" y="432" width="6" height="8" fill="#fff"/>
<rect x="749" y="444" width="8" height="11" fill="#000"/>
<rect x="750" y="445" width="6" height="9" fill="#fff"/>
<rect x="634" y="483" width="113" height="24" fill="#000"/>
<rect x="635" y="484" width="111" height="22" fill="#fff"/>
<rect x="634" y="490" width="113" height="1" fill="#000"/>
<rect x="637" y="485" width="7" height="3" fill="#000"/>
<rect x="638" y="486" width="5" height="1" fill="#fff"/>
<rect x="639" y="488" width="3" height="2" fill="#000"/>
<rect x="637" y="493" width="7" height="2" fill="#000"/>
<rect x="646" y="485" width="7" height="3" fill="#000"/>
<rect x="647" y="486" width="5" height="1" fill="#fff"/>
<rect x="648" y="488" width="3" height="2" fill="#000"/>
<rect x="646" y="493" width="7" height="2" fill="#000"/>
<rect x="655" y="485" width="7" height="3" fill="#000"/>
<rect x="656" y="486" width="5" height="1" fill="#fff"/>
<rect x="657" y="488" width="3" height="2" fill="#000"/>
<rect x="655" y="493" width="7" height="2" fill="#000"/>
<rect x="664" y="485" width="7" height="3" fill="#000"/>
<rect x="665" y="486" width="5" height="1" fill="#fff"/>
<rect x="666" y="488" width="3" height="2" fill="#000"/>
<rect x="664" y="493" width="7" height="2" fill="#000"/>
<rect x="674" y="485" width="7" height="3" fill="#000"/>
<rect x="675" y="486" width="5" height="1" fill="#fff"/>
<rect x="676" y="488" width="3" height="2" fill="#000"/>
<rect x="674" y="493" width="7" height="2" fill="#000"/>
<rect x="683" y="485" width="7" height="3" fill="#000"/>
<rect x="684" y="486" width="5" height="1" fill="#fff"/>
<rect x="685" y="488" width="3" height="2" fill="#000"/>
<rect x="683" y="493" width="7" height="2" fill="#000"/>
<rect x="692" y="485" width="7" height="3" fill="#000"/>
<rect x="693" y="486" width="5" height="1" fill="#fff"/>
<rect x="694" y="488" width="3" height="2" fill="#000"/>
<rect x="692" y="493" width="7" height="2" fill="#000"/>
<rect x="701" y="485" width="7" height="3" fill="#000"/>
<rect x="702" y="486" width="5" height="1" fill="#fff"/>
<rect x="703" y="488" width="3" height="2" fill="#000"/>
<rect x="701" y="493" width="7" height="2" fill="#000"/>
<rect x="710" y="485" width="7" height="3" fill="#000"/>
<rect x="711" y="486" width="5" height="1" fill="#fff"/>
<rect x="712" y="488" width="3" height="2" fill="#000"/>
<rect x="710" y="493" width="7" height="2" fill="#000"/>
<rect x="719" y="485" width="7" height="3" fill="#000"/>
<rect x="720" y="486" width="5" height="1" fill="#fff"/>
<rect x="721" y="488" width="3" height="2" fill="#000"/>
<rect x="719" y="493" width="7" height="2" fill="#000"/>
<rect x="728" y="485" width="7" height="3" fill="#000"/>
<rect x="729" y="486" width="5" height="1" fill="#fff"/>
<rect x="730" y="488" width="3" height="2" fill="#000"/>
<rect x="728" y="493" width="7" height="2" fill="#000"/>
<rect x="738" y="485" width="7" height="3" fill="#000"/>
<rect x="739" y="486" width="5" height="1" fill="#fff"/>
<rect x="740" y="488" width="3" height="2" fill="#000"/>
<rect x="738" y="493" width="7" height="2" fill="#000"/>
<rect x="641" y="496" width="7" height="8" fill="#000"/>
<rect x="642" y="497" width="5" height="6" fill="#fff"/>
<rect x="650" y="496" width="7" height="8" fill="#000"/>
<rect x="651" y="497" width="5" height="6" fill="#fff"/>
<rect x="660" y="496" width="7" height="8" fill="#000"/>
<rect x="661" y="497" width="5" height="6" fill="#fff"/>
<rect x="669" y="496" width="7" height="8" fill="#000"/>
<rect x="670" y="497" width="5" height="6" fill="#fff"/>
<rect x="679" y="496" width="7" height="8" fill="#000"/>
<rect x="680" y="497" width="5" height="6" fill="#fff"/>
<rect x="688" y="496" width="7" height="8" fill="#000"/>
<rect x="689" y="497" width="5" height="6" fill="#fff"/>
<rect x="698" y="496" width="7" height="8" fill="#000"/>
<rect x="699" y="497" width="5" height="6" fill="#fff"/>
<rect x="707" y="496" width="7" height="8" fill="#000"/>
<rect x="708" y="497" width="5" height="6" fill="#fff"/>
<rect x="717" y="496" width="7" height="8" fill="#000"/>
<rect x="718" y="497" width="5" height="6" fill="#fff"/>
<rect x="726" y="496" width="7" height="8" fill="#000"/>
<rect x="727" y="497" width="5" height="6" fill="#fff"/>
<rect x="736" y="496" width="7" height="8" fill="#000"/>
<rect x="737" y="497" width="5" height="6" fill="#fff"/>
<rect x="634" y="498" width="3" height="5" fill="#fff"/>
<rect x="636" y="498" width="1" height="5" fill="#000"/>
<rect x="744" y="498" width="3" height="5" fill="#fff"/>
<rect x="744" y="498" width="1" height="5" fill="#000"/>
<rect x="634" y="497" width="3" height="1" fill="#000"/>
<rect x="634" y="503" width="3" height="1" fill="#000"/>
<rect x="744" y="497" width="3" height="1" fill="#000"/>
<rect x="744" y="503" width="3" height="1" fill="#000"/>
</g>
<g>
<polyline points="126,274.5 133.5,278 133.5,369 138.5,373 133.5,377 133.5,474 126,481" fill="none" stroke="#000" stroke-width="1" />
<circle cx="157.8" cy="281" r="1.8" fill="#fff"/>
<circle cx="163.66" cy="281" r="1.8" fill="#fff"/>
<circle cx="169.52" cy="281" r="1.8" fill="#fff"/>
<circle cx="175.38" cy="281" r="1.8" fill="#fff"/>
<circle cx="181.24" cy="281" r="1.8" fill="#fff"/>
<circle cx="187.1" cy="281" r="1.8" fill="#fff"/>
<circle cx="192.96" cy="281" r="1.8" fill="#fff"/>
<circle cx="198.82" cy="281" r="1.8" fill="#fff"/>
<circle cx="204.68" cy="281" r="1.8" fill="#fff"/>
<circle cx="210.54" cy="281" r="1.8" fill="#fff"/>
<circle cx="216.4" cy="281" r="1.8" fill="#fff"/>
<circle cx="222.26" cy="281" r="1.8" fill="#fff"/>
<circle cx="228.12" cy="281" r="1.8" fill="#fff"/>
<circle cx="157.8" cy="286.88" r="1.8" fill="#fff"/>
<circle cx="163.66" cy="286.88" r="1.8" fill="#fff"/>
<circle cx="169.52" cy="286.88" r="1.8" fill="#fff"/>
<circle cx="175.38" cy="286.88" r="1.8" fill="#fff"/>
<circle cx="181.24" cy="286.88" r="1.8" fill="#fff"/>
<circle cx="187.1" cy="286.88" r="1.8" fill="#fff"/>
<circle cx="192.96" cy="286.88" r="1.8" fill="#fff"/>
<circle cx="198.82" cy="286.88" r="1.8" fill="#fff"/>
<circle cx="204.68" cy="286.88" r="1.8" fill="#fff"/>
<circle cx="210.54" cy="286.88" r="1.8" fill="#fff"/>
<circle cx="216.4" cy="286.88" r="1.8" fill="#fff"/>
<circle cx="222.26" cy="286.88" r="1.8" fill="#fff"/>
<circle cx="228.12" cy="286.88" r="1.8" fill="#fff"/>
<circle cx="157.8" cy="292.76" r="1.8" fill="#fff"/>
<circle cx="163.66" cy="292.76" r="1.8" fill="#fff"/>
<circle cx="169.52" cy="292.76" r="1.8" fill="#fff"/>
<circle cx="175.38" cy="292.76" r="1.8" fill="#fff"/>
<circle cx="181.24" cy="292.76" r="1.8" fill="#fff"/>
<circle cx="187.1" cy="292.76" r="1.8" fill="#fff"/>
<circle cx="192.96" cy="292.76" r="1.8" fill="#fff"/>
<circle cx="198.82" cy="292.76" r="1.8" fill="#fff"/>
<circle cx="204.68" cy="292.76" r="1.8" fill="#fff"/>
<circle cx="210.54" cy="292.76" r="1.8" fill="#fff"/>
<circle cx="216.4" cy="292.76" r="1.8" fill="#fff"/>
<circle cx="222.26" cy="292.76" r="1.8" fill="#fff"/>
<circle cx="228.12" cy="292.76" r="1.8" fill="#fff"/>
<circle cx="157.8" cy="298.64" r="1.8" fill="#fff"/>
<circle cx="163.66" cy="298.64" r="1.8" fill="#fff"/>
<circle cx="169.52" cy="298.64" r="1.8" fill="#fff"/>
<circle cx="216.4" cy="298.64" r="1.8" fill="#fff"/>
<circle cx="222.26" cy="298.64" r="1.8" fill="#fff"/>
<circle cx="228.12" cy="298.64" r="1.8" fill="#fff"/>
<circle cx="157.8" cy="304.52" r="1.8" fill="#fff"/>
<circle cx="163.66" cy="304.52" r="1.8" fill="#fff"/>
<circle cx="169.52" cy="304.52" r="1.8" fill="#fff"/>
<circle cx="216.4" cy="304.52" r="1.8" fill="#fff"/>
<circle cx="222.26" cy="304.52" r="1.8" fill="#fff"/>
<circle cx="228.12" cy="304.52" r="1.8" fill="#fff"/>
<circle cx="157.8" cy="310.4" r="1.8" fill="#fff"/>
<circle cx="163.66" cy="310.4" r="1.8" fill="#fff"/>
<circle cx="169.52" cy="310.4" r="1.8" fill="#fff"/>
<circle cx="216.4" cy="310.4" r="1.8" fill="#fff"/>
<circle cx="222.26" cy="310.4" r="1.8" fill="#fff"/>
<circle cx="228.12" cy="310.4" r="1.8" fill="#fff"/>
<circle cx="157.8" cy="316.28" r="1.8" fill="#fff"/>
<circle cx="163.66" cy="316.28" r="1.8" fill="#fff"/>
<circle cx="169.52" cy="316.28" r="1.8" fill="#fff"/>
<circle cx="216.4" cy="316.28" r="1.8" fill="#fff"/>
<circle cx="222.26" cy="316.28" r="1.8" fill="#fff"/>
<circle cx="228.12" cy="316.28" r="1.8" fill="#fff"/>
<circle cx="157.8" cy="322.16" r="1.8" fill="#fff"/>
<circle cx="163.66" cy="322.16" r="1.8" fill="#fff"/>
<circle cx="169.52" cy="322.16" r="1.8" fill="#fff"/>
<circle cx="216.4" cy="322.16" r="1.8" fill="#fff"/>
<circle cx="222.26" cy="322.16" r="1.8" fill="#fff"/>
<circle cx="228.12" cy="322.16" r="1.8" fill="#fff"/>
<circle cx="157.8" cy="328.04" r="1.8" fill="#fff"/>
<circle cx="163.66" cy="328.04" r="1.8" fill="#fff"/>
<circle cx="169.52" cy="328.04" r="1.8" fill="#fff"/>
<circle cx="216.4" cy="328.04" r="1.8" fill="#fff"/>
<circle cx="222.26" cy="328.04" r="1.8" fill="#fff"/>
<circle cx="228.12" cy="328.04" r="1.8" fill="#fff"/>
<circle cx="157.8" cy="333.92" r="1.8" fill="#fff"/>
<circle cx="163.66" cy="333.92" r="1.8" fill="#fff"/>
<circle cx="169.52" cy="333.92" r="1.8" fill="#fff"/>
<circle cx="216.4" cy="333.92" r="1.8" fill="#fff"/>
<circle cx="222.26" cy="333.92" r="1.8" fill="#fff"/>
<circle cx="228.12" cy="333.92" r="1.8" fill="#fff"/>
<circle cx="157.8" cy="339.8" r="1.8" fill="#fff"/>
<circle cx="163.66" cy="339.8" r="1.8" fill="#fff"/>
<circle cx="169.52" cy="339.8" r="1.8" fill="#fff"/>
<circle cx="175.38" cy="339.8" r="1.8" fill="#fff"/>
<circle cx="181.24" cy="339.8" r="1.8" fill="#fff"/>
<circle cx="187.1" cy="339.8" r="1.8" fill="#fff"/>
<circle cx="192.96" cy="339.8" r="1.8" fill="#fff"/>
<circle cx="198.82" cy="339.8" r="1.8" fill="#fff"/>
<circle cx="204.68" cy="339.8" r="1.8" fill="#fff"/>
<circle cx="210.54" cy="339.8" r="1.8" fill="#fff"/>
<circle cx="216.4" cy="339.8" r="1.8" fill="#fff"/>
<circle cx="222.26" cy="339.8" r="1.8" fill="#fff"/>
<circle cx="228.12" cy="339.8" r="1.8" fill="#fff"/>
<circle cx="157.8" cy="345.68" r="1.8" fill="#fff"/>
<circle cx="163.66" cy="345.68" r="1.8" fill="#fff"/>
<circle cx="169.52" cy="345.68" r="1.8" fill="#fff"/>
<circle cx="175.38" cy="345.68" r="1.8" fill="#fff"/>
<circle cx="181.24" cy="345.68" r="1.8" fill="#fff"/>
<circle cx="187.1" cy="345.68" r="1.8" fill="#fff"/>
<circle cx="192.96" cy="345.68" r="1.8" fill="#fff"/>
<circle cx="198.82" cy="345.68" r="1.8" fill="#fff"/>
<circle cx="204.68" cy="345.68" r="1.8" fill="#fff"/>
<circle cx="210.54" cy="345.68" r="1.8" fill="#fff"/>
<circle cx="216.4" cy="345.68" r="1.8" fill="#fff"/>
<circle cx="222.26" cy="345.68" r="1.8" fill="#fff"/>
<circle cx="228.12" cy="345.68" r="1.8" fill="#fff"/>
<circle cx="157.8" cy="351.56" r="1.8" fill="#fff"/>
<circle cx="163.66" cy="351.56" r="1.8" fill="#fff"/>
<circle cx="169.52" cy="351.56" r="1.8" fill="#fff"/>
<circle cx="175.38" cy="351.56" r="1.8" fill="#fff"/>
<circle cx="181.24" cy="351.56" r="1.8" fill="#fff"/>
<circle cx="187.1" cy="351.56" r="1.8" fill="#fff"/>
<circle cx="192.96" cy="351.56" r="1.8" fill="#fff"/>
<circle cx="198.82" cy="351.56" r="1.8" fill="#fff"/>
<circle cx="204.68" cy="351.56" r="1.8" fill="#fff"/>
<circle cx="210.54" cy="351.56" r="1.8" fill="#fff"/>
<circle cx="216.4" cy="351.56" r="1.8" fill="#fff"/>
<circle cx="222.26" cy="351.56" r="1.8" fill="#fff"/>
<circle cx="228.12" cy="351.56" r="1.8" fill="#fff"/>
<circle cx="180.3" cy="329.5" r="2.4" fill="#000"/>
<circle cx="217.8" cy="402.6" r="3.4" fill="#fff"/>
<circle cx="363.6" cy="118.8" r="2" fill="#fff"/>
<circle cx="335.4" cy="269.5" r="2" fill="#fff"/>
<polygon points="315,27.1 324.9,29.9 331.5,29.9 331.5,31.1 324.9,31.1 315,33.9" fill="#fff" stroke="#000" stroke-width="1.9" stroke-linejoin="miter"/>
<rect x="291" y="21" width="26" height="19" rx="3.5" fill="#000"/>
<rect x="293" y="23" width="21.3" height="14.5" rx="1.5" fill="#fff"/>
<text x="303.2" y="35.2" text-anchor="middle" font-size="14" textLength="13.9" lengthAdjust="spacingAndGlyphs">S1</text>
<polygon points="31,88 22,104.5 37,92" fill="#fff" stroke="#000" stroke-width="2.6" stroke-linejoin="miter"/>
<rect x="29" y="76" width="32" height="18" rx="3.5" fill="#000"/>
<rect x="31" y="78" width="27.3" height="13.5" rx="1.5" fill="#fff"/>
<text x="43.1" y="89.2" text-anchor="middle" font-size="14" textLength="21.8" lengthAdjust="spacingAndGlyphs">J30</text>
<polygon points="31,112 22,125.5 37,116" fill="#fff" stroke="#000" stroke-width="2.6" stroke-linejoin="miter"/>
<rect x="29" y="101" width="32" height="17" rx="3.5" fill="#000"/>
<rect x="31" y="103" width="27.3" height="12.5" rx="1.5" fill="#fff"/>
<text x="43.1" y="114.2" text-anchor="middle" font-size="14" textLength="21.8" lengthAdjust="spacingAndGlyphs">J29</text>
<polygon points="31,146 22.5,159.5 37,150" fill="#fff" stroke="#000" stroke-width="2.6" stroke-linejoin="miter"/>
<rect x="29" y="134" width="32" height="18" rx="3.5" fill="#000"/>
<rect x="31" y="136" width="27.3" height="13.5" rx="1.5" fill="#fff"/>
<text x="43.1" y="147.2" text-anchor="middle" font-size="14" textLength="21.8" lengthAdjust="spacingAndGlyphs">J28</text>
<polygon points="31,188 22,201.5 37,192" fill="#fff" stroke="#000" stroke-width="2.6" stroke-linejoin="miter"/>
<rect x="29" y="176" width="32" height="18" rx="3.5" fill="#000"/>
<rect x="31" y="178" width="27.3" height="13.5" rx="1.5" fill="#fff"/>
<text x="43.1" y="189.2" text-anchor="middle" font-size="14" textLength="21.8" lengthAdjust="spacingAndGlyphs">J27</text>
<polygon points="31,230 22,243.5 37,234" fill="#fff" stroke="#000" stroke-width="2.6" stroke-linejoin="miter"/>
<rect x="29" y="218" width="32" height="18" rx="3.5" fill="#000"/>
<rect x="31" y="220" width="27.3" height="13.5" rx="1.5" fill="#fff"/>
<text x="43.1" y="231.2" text-anchor="middle" font-size="14" textLength="21.8" lengthAdjust="spacingAndGlyphs">J26</text>
<rect x="118" y="98" width="58" height="18" rx="3.5" fill="#000"/>
<rect x="120" y="100" width="53.3" height="13.5" rx="1.5" fill="#fff"/>
<text x="145" y="111.2" text-anchor="middle" font-size="14" textLength="48.3" lengthAdjust="spacingAndGlyphs">BANK 1</text>
<rect x="118" y="199" width="58" height="18" rx="3.5" fill="#000"/>
<rect x="120" y="201" width="53.3" height="13.5" rx="1.5" fill="#fff"/>
<text x="145" y="212.2" text-anchor="middle" font-size="14" textLength="48.3" lengthAdjust="spacingAndGlyphs">BANK 0</text>
<polygon points="281.9,98 284,113 284,117 285,117 285,113 287.1,98" fill="#fff" stroke="#000" stroke-width="1.9" stroke-linejoin="miter"/>
<rect x="268" y="82" width="34" height="18" rx="3.5" fill="#000"/>
<rect x="270" y="84" width="29.3" height="13.5" rx="1.5" fill="#fff"/>
<text x="283.1" y="95.2" text-anchor="middle" font-size="14" textLength="21.8" lengthAdjust="spacingAndGlyphs">J20</text>
<polygon points="281.9,148 284,134 284,130 285,130 285,134 287.1,148" fill="#fff" stroke="#000" stroke-width="1.9" stroke-linejoin="miter"/>
<rect x="268" y="147" width="33" height="19" rx="3.5" fill="#000"/>
<rect x="270" y="149" width="28.3" height="14.5" rx="1.5" fill="#fff"/>
<text x="282.6" y="160.2" text-anchor="middle" font-size="14" textLength="21.8" lengthAdjust="spacingAndGlyphs">J19</text>
<polygon points="297,184.1 307.8,186.9 315,186.9 315,188.1 307.8,188.1 297,190.9" fill="#fff" stroke="#000" stroke-width="1.9" stroke-linejoin="miter"/>
<rect x="264" y="178" width="35" height="19" rx="3.5" fill="#000"/>
<rect x="266" y="180" width="30.3" height="14.5" rx="1.5" fill="#fff"/>
<text x="279.6" y="191.2" text-anchor="middle" font-size="14" textLength="21.8" lengthAdjust="spacingAndGlyphs">J18</text>
<polygon points="351,192.1 341.4,194.9 335,194.9 335,196.1 341.4,196.1 351,198.9" fill="#fff" stroke="#000" stroke-width="1.9" stroke-linejoin="miter"/>
<rect x="350" y="186" width="36" height="18" rx="3.5" fill="#000"/>
<rect x="352" y="188" width="31.3" height="13.5" rx="1.5" fill="#fff"/>
<text x="366.1" y="199.2" text-anchor="middle" font-size="14" textLength="21.8" lengthAdjust="spacingAndGlyphs">J17</text>
<polygon points="250.4,264 252.5,279 252.5,283 253.5,283 253.5,279 255.6,264" fill="#fff" stroke="#000" stroke-width="1.9" stroke-linejoin="miter"/>
<rect x="237" y="248" width="35" height="18" rx="3.5" fill="#000"/>
<rect x="239" y="250" width="30.3" height="13.5" rx="1.5" fill="#fff"/>
<text x="252.6" y="261.2" text-anchor="middle" font-size="14" textLength="21.8" lengthAdjust="spacingAndGlyphs">J22</text>
<polygon points="250.4,315 252.5,300 252.5,296 253.5,296 253.5,300 255.6,315" fill="#fff" stroke="#000" stroke-width="1.9" stroke-linejoin="miter"/>
<rect x="237" y="314" width="35" height="19" rx="3.5" fill="#000"/>
<rect x="239" y="316" width="30.3" height="14.5" rx="1.5" fill="#fff"/>
<text x="252.6" y="327.2" text-anchor="middle" font-size="14" textLength="21.8" lengthAdjust="spacingAndGlyphs">J21</text>
<rect x="177" y="307" width="32" height="19" rx="3.5" fill="#000"/>
<rect x="179" y="309" width="27.3" height="14.5" rx="1.5" fill="#fff"/>
<text x="193" y="320.2" text-anchor="middle" font-size="14" textLength="25.9" lengthAdjust="spacingAndGlyphs">NPU</text>
<polygon points="365.9,321 368,335 368,339 369,339 369,335 371.1,321" fill="#fff" stroke="#000" stroke-width="1.9" stroke-linejoin="miter"/>
<rect x="352" y="305" width="35" height="18" rx="3.5" fill="#000"/>
<rect x="354" y="307" width="30.3" height="13.5" rx="1.5" fill="#fff"/>
<text x="367.6" y="318.2" text-anchor="middle" font-size="14" textLength="21.8" lengthAdjust="spacingAndGlyphs">J11</text>
<rect x="143" y="366" width="50" height="18" rx="3.5" fill="#000"/>
<rect x="145" y="368" width="45.3" height="13.5" rx="1.5" fill="#fff"/>
<text x="168" y="379.2" text-anchor="middle" font-size="14" textLength="44.3" lengthAdjust="spacingAndGlyphs">CACHE</text>
<rect x="52" y="317" width="58" height="16" rx="3.5" fill="#000"/>
<rect x="53" y="318" width="56" height="13.5" rx="1.5" fill="#fff"/>
<text x="79" y="330.2" text-anchor="middle" font-size="14" textLength="48.3" lengthAdjust="spacingAndGlyphs">BANK 0</text>
<rect x="51" y="421" width="58" height="17" rx="3.5" fill="#000"/>
<rect x="52" y="422" width="56" height="14.5" rx="1.5" fill="#fff"/>
<text x="78" y="434.2" text-anchor="middle" font-size="14" textLength="48.3" lengthAdjust="spacingAndGlyphs">BANK 1</text>
<polygon points="23.4,447 25.5,462 25.5,466 26.5,466 26.5,462 28.6,447" fill="#fff" stroke="#000" stroke-width="1.9" stroke-linejoin="miter"/>
<rect x="10" y="431" width="32" height="18" rx="3.5" fill="#000"/>
<rect x="12" y="433" width="27.3" height="13.5" rx="1.5" fill="#fff"/>
<text x="24.1" y="444.2" text-anchor="middle" font-size="14" textLength="21.8" lengthAdjust="spacingAndGlyphs">J25</text>
<polygon points="74,498.1 64.4,500.9 58,500.9 58,502.1 64.4,502.1 74,504.9" fill="#fff" stroke="#000" stroke-width="1.9" stroke-linejoin="miter"/>
<rect x="73" y="492" width="36" height="19" rx="3.5" fill="#000"/>
<rect x="75" y="494" width="31.3" height="14.5" rx="1.5" fill="#fff"/>
<text x="89.1" y="505.2" text-anchor="middle" font-size="14" textLength="21.8" lengthAdjust="spacingAndGlyphs">J24</text>
<polygon points="170,493 158.95,497.4 153,497.4 153,498.6 158.95,498.6 170,503" fill="#fff" stroke="#000" stroke-width="1.9" stroke-linejoin="miter"/>
<rect x="169" y="489" width="36" height="19" rx="3.5" fill="#000"/>
<rect x="171" y="491" width="31.3" height="14.5" rx="1.5" fill="#fff"/>
<text x="185.1" y="502.2" text-anchor="middle" font-size="14" textLength="21.8" lengthAdjust="spacingAndGlyphs">J23</text>
<rect x="270" y="424" width="31" height="18" rx="3.5" fill="#000"/>
<rect x="271" y="425" width="29" height="15.5" rx="1.5" fill="#fff"/>
<text x="285.5" y="437.2" text-anchor="middle" font-size="14" textLength="24.3" lengthAdjust="spacingAndGlyphs">TAG</text>
<polygon points="324,375 332,389 320,380" fill="#fff" stroke="#000" stroke-width="1.9" stroke-linejoin="miter"/>
<rect x="293" y="365" width="33" height="17" rx="3.5" fill="#000"/>
<rect x="295" y="367" width="28.3" height="12.5" rx="1.5" fill="#fff"/>
<text x="307.6" y="378.2" text-anchor="middle" font-size="14" textLength="21.8" lengthAdjust="spacingAndGlyphs">J16</text>
<polygon points="357,375 348,389 361,380" fill="#fff" stroke="#000" stroke-width="1.9" stroke-linejoin="miter"/>
<rect x="356" y="365" width="32" height="17" rx="3.5" fill="#000"/>
<rect x="358" y="367" width="27.3" height="12.5" rx="1.5" fill="#fff"/>
<text x="370.1" y="378.2" text-anchor="middle" font-size="14" textLength="21.8" lengthAdjust="spacingAndGlyphs">J15</text>
<polygon points="324,399 332,413 320,404" fill="#fff" stroke="#000" stroke-width="1.9" stroke-linejoin="miter"/>
<rect x="293" y="388" width="33" height="18" rx="3.5" fill="#000"/>
<rect x="295" y="390" width="28.3" height="13.5" rx="1.5" fill="#fff"/>
<text x="307.6" y="401.2" text-anchor="middle" font-size="14" textLength="21.8" lengthAdjust="spacingAndGlyphs">J14</text>
<polygon points="357,399 348,413 361,404" fill="#fff" stroke="#000" stroke-width="1.9" stroke-linejoin="miter"/>
<rect x="356" y="388" width="32" height="18" rx="3.5" fill="#000"/>
<rect x="358" y="390" width="27.3" height="13.5" rx="1.5" fill="#fff"/>
<text x="370.1" y="401.2" text-anchor="middle" font-size="14" textLength="21.8" lengthAdjust="spacingAndGlyphs">J13</text>
<polygon points="356,430.6 346.4,433.4 340,433.4 340,434.6 346.4,434.6 356,437.4" fill="#fff" stroke="#000" stroke-width="1.9" stroke-linejoin="miter"/>
<rect x="355" y="425" width="36" height="18" rx="3.5" fill="#000"/>
<rect x="357" y="427" width="31.3" height="13.5" rx="1.5" fill="#fff"/>
<text x="371.1" y="438.2" text-anchor="middle" font-size="14" textLength="21.8" lengthAdjust="spacingAndGlyphs">J12</text>
<polygon points="381,473 390,487 375,478" fill="#fff" stroke="#000" stroke-width="1.9" stroke-linejoin="miter"/>
<rect x="359" y="463" width="24" height="17" rx="3.5" fill="#000"/>
<rect x="361" y="465" width="19.3" height="12.5" rx="1.5" fill="#fff"/>
<text x="370.2" y="476.2" text-anchor="middle" font-size="14" textLength="13.9" lengthAdjust="spacingAndGlyphs">J9</text>
<polygon points="398.9,469 401,483 401,487 402,487 402,483 404.1,469" fill="#fff" stroke="#000" stroke-width="1.9" stroke-linejoin="miter"/>
<rect x="390" y="453" width="25" height="18" rx="3.5" fill="#000"/>
<rect x="392" y="455" width="20.3" height="13.5" rx="1.5" fill="#fff"/>
<text x="401.7" y="466.2" text-anchor="middle" font-size="14" textLength="13.9" lengthAdjust="spacingAndGlyphs">J7</text>
<polygon points="421,473 412.5,487 427,478" fill="#fff" stroke="#000" stroke-width="1.9" stroke-linejoin="miter"/>
<rect x="420" y="463" width="24" height="17" rx="3.5" fill="#000"/>
<rect x="422" y="465" width="19.3" height="12.5" rx="1.5" fill="#fff"/>
<text x="431.2" y="476.2" text-anchor="middle" font-size="14" textLength="13.9" lengthAdjust="spacingAndGlyphs">J5</text>
<polygon points="363,491.1 373.2,493.9 380,493.9 380,495.1 373.2,495.1 363,497.9" fill="#fff" stroke="#000" stroke-width="1.9" stroke-linejoin="miter"/>
<rect x="332" y="486" width="33" height="18" rx="3.5" fill="#000"/>
<rect x="334" y="488" width="28.3" height="13.5" rx="1.5" fill="#fff"/>
<text x="346.6" y="499.2" text-anchor="middle" font-size="14" textLength="21.8" lengthAdjust="spacingAndGlyphs">J10</text>
<polygon points="439,491.1 428.8,493.9 422,493.9 422,495.1 428.8,495.1 439,497.9" fill="#fff" stroke="#000" stroke-width="1.9" stroke-linejoin="miter"/>
<rect x="438" y="486" width="25" height="18" rx="3.5" fill="#000"/>
<rect x="440" y="488" width="20.3" height="13.5" rx="1.5" fill="#fff"/>
<text x="449.7" y="499.2" text-anchor="middle" font-size="14" textLength="13.9" lengthAdjust="spacingAndGlyphs">J4</text>
<polygon points="389,515 396.5,500.5 384,510" fill="#fff" stroke="#000" stroke-width="1.9" stroke-linejoin="miter"/>
<rect x="365" y="509" width="26" height="18" rx="3.5" fill="#000"/>
<rect x="367" y="511" width="21.3" height="13.5" rx="1.5" fill="#fff"/>
<text x="377.2" y="522.2" text-anchor="middle" font-size="14" textLength="13.9" lengthAdjust="spacingAndGlyphs">J8</text>
<polygon points="416,515 406,500.5 420,510" fill="#fff" stroke="#000" stroke-width="1.9" stroke-linejoin="miter"/>
<rect x="415" y="509" width="24" height="18" rx="3.5" fill="#000"/>
<rect x="417" y="511" width="19.3" height="13.5" rx="1.5" fill="#fff"/>
<text x="426.2" y="522.2" text-anchor="middle" font-size="14" textLength="13.9" lengthAdjust="spacingAndGlyphs">J6</text>
<polygon points="595.5,383 602,394.5 592.5,386" fill="#fff" stroke="#000" stroke-width="1.9" stroke-linejoin="miter"/>
<rect x="571" y="369" width="26" height="19" rx="3.5" fill="#000"/>
<rect x="573" y="371" width="21.3" height="14.5" rx="1.5" fill="#fff"/>
<text x="583.2" y="382.2" text-anchor="middle" font-size="14" textLength="13.9" lengthAdjust="spacingAndGlyphs">J3</text>
<polygon points="652.5,387 659.5,375.5 648.5,384" fill="#fff" stroke="#000" stroke-width="1.9" stroke-linejoin="miter"/>
<rect x="628" y="383" width="26" height="18" rx="3.5" fill="#000"/>
<rect x="630" y="385" width="21.3" height="13.5" rx="1.5" fill="#fff"/>
<text x="640.2" y="396.2" text-anchor="middle" font-size="14" textLength="13.9" lengthAdjust="spacingAndGlyphs">J2</text>
<polygon points="698.5,387 705,375.5 694,384" fill="#fff" stroke="#000" stroke-width="1.9" stroke-linejoin="miter"/>
<rect x="672" y="383" width="28" height="19" rx="3.5" fill="#000"/>
<rect x="674" y="385" width="23.3" height="14.5" rx="1.5" fill="#fff"/>
<text x="685.2" y="396.2" text-anchor="middle" font-size="14" textLength="13.9" lengthAdjust="spacingAndGlyphs">J1</text>
<text x="187.6" y="436" text-anchor="middle" font-size="14" textLength="26.7" lengthAdjust="spacingAndGlyphs">CPU</text>
<text x="296.6" y="490" text-anchor="middle" font-size="14" textLength="30.8" lengthAdjust="spacingAndGlyphs">BIOS</text>
<text x="650.3" y="446" text-anchor="middle" font-size="14" textLength="26" lengthAdjust="spacingAndGlyphs">KBD</text>
<text x="646.6" y="58" text-anchor="middle" font-size="12.5" textLength="41" lengthAdjust="spacingAndGlyphs">MH0371</text>
<text x="36.5" y="494" text-anchor="middle" font-size="12.5">3</text>
<text x="37.5" y="518" text-anchor="middle" font-size="12.5">6</text>
<text x="56.4" y="518" text-anchor="middle" font-size="12.5">4</text>
</g>
<g shape-rendering="crispEdges">

</g>
</svg>
</body></html>
